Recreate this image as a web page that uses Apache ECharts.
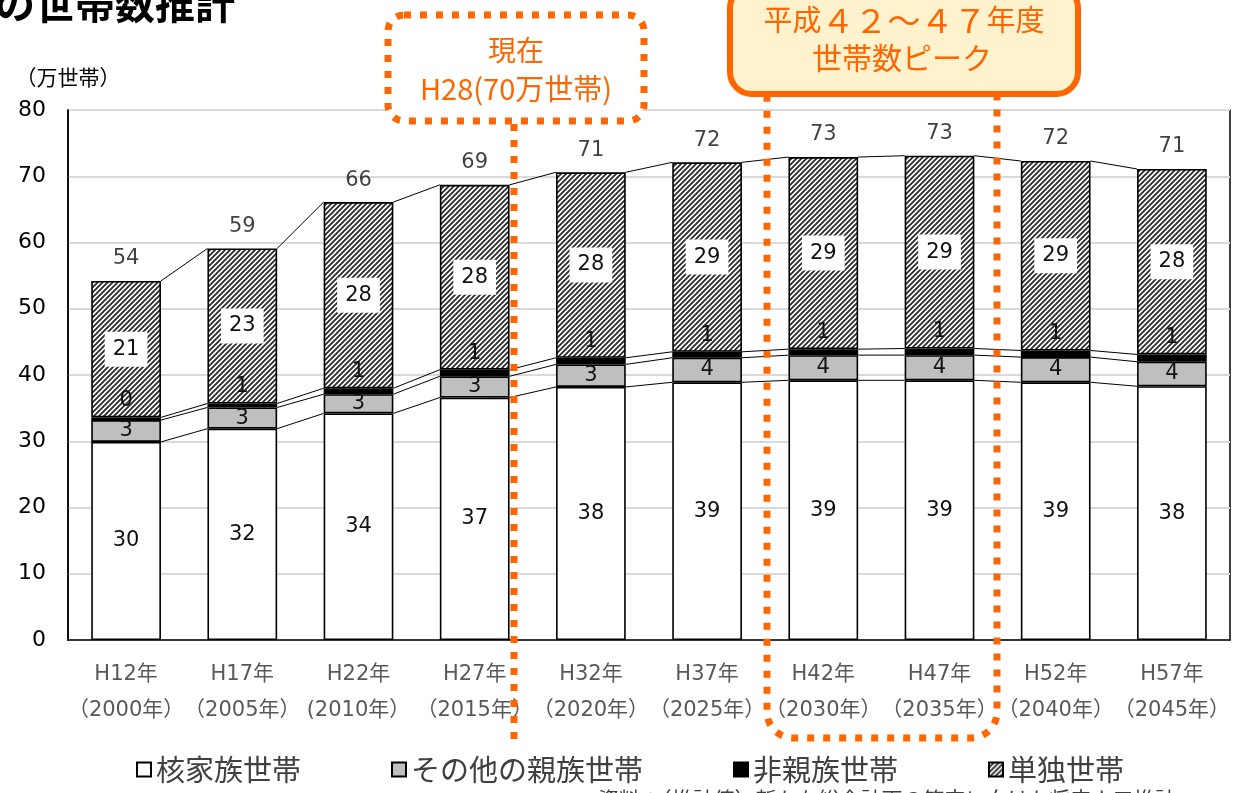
<!DOCTYPE html>
<html>
<head>
<meta charset="utf-8">
<script src="https://cdn.jsdelivr.net/npm/echarts@6/dist/echarts.min.js"></script>
<style>html,body{margin:0;padding:0;background:#fff;}#c{width:1239px;height:793px;}</style>
</head>
<body>
<div id="c"></div>
<script>
const categories = ['H12年\n（2000年）', 'H17年\n（2005年）', 'H22年\n(2010年）', 'H27年\n（2015年）', 'H32年\n（2020年）', 'H37年\n（2025年）', 'H42年\n（2030年）', 'H47年\n（2035年）', 'H52年\n（2040年）', 'H57年\n（2045年）'];
const seriesNames = ['核家族世帯', 'その他の親族世帯', '非親族世帯', '単独世帯'];
const nuclear = [29.9, 31.9, 34.2, 36.6, 38.2, 38.9, 39.2, 39.2, 38.9, 38.3];
const otherKin = [3.3, 3.2, 2.9, 3.2, 3.4, 3.7, 3.8, 3.8, 3.8, 3.7];
const nonKin = [0.4, 0.6, 0.9, 1.0, 1.0, 0.9, 0.9, 1.0, 1.0, 1.1];
const single = [20.6, 23.4, 28.1, 27.9, 28.0, 28.6, 29.0, 29.1, 28.6, 28.0];
const yTicks = {min: 0, max: 80, interval: 10};

const totals = categories.map((_, i) => nuclear[i] + otherKin[i] + nonKin[i] + single[i]);
const cum = categories.map((_, i) => {
  const a = nuclear[i], b = a + otherKin[i], c = b + nonKin[i], d = c + single[i];
  return [a, b, c, d];
});

function makeHatch() {
  const s = 5;
  const c = document.createElement('canvas');
  c.width = s; c.height = s;
  const g = c.getContext('2d');
  g.fillStyle = '#ffffff'; g.fillRect(0, 0, s, s);
  g.strokeStyle = '#2e2e2e'; g.lineWidth = 1.9;
  g.beginPath();
  g.moveTo(-1, s + 1); g.lineTo(s + 1, -1);
  g.moveTo(-1, 1); g.lineTo(1, -1);
  g.moveTo(s - 1, s + 1); g.lineTo(s + 1, s - 1);
  g.stroke();
  return c;
}
const hatch = {image: makeHatch(), repeat: 'repeat'};

const ORANGE = '#FF6600';
const numFont = 'DejaVu Sans, Noto Sans CJK JP, sans-serif';
const jpFont = 'Noto Sans CJK JP, sans-serif';
const round = p => String(Math.round(p.value));

const chart = echarts.init(document.getElementById('c'), null, {renderer: 'canvas'});
const BW = 0.6;

chart.setOption({
  animation: false,
  backgroundColor: '#ffffff',
  grid: {left: 68, right: 9, top: 110, bottom: 153, show: true, borderColor: '#000', borderWidth: 1.5, backgroundColor: 'transparent'},
  legend: {
    data: seriesNames,
    left: 131, top: 750,
    icon: 'rect', itemWidth: 14, itemHeight: 14, itemGap: 90,
    textStyle: {fontSize: 29, color: '#404040', fontFamily: jpFont}
  },
  xAxis: {
    type: 'category', data: categories,
    axisLine: {lineStyle: {color: '#000', width: 1.5}},
    axisTick: {show: false},
    axisLabel: {interval: 0, fontSize: 21, lineHeight: 36, color: '#595959', fontFamily: numFont, margin: 17}
  },
  yAxis: {
    type: 'value', min: yTicks.min, max: yTicks.max, interval: yTicks.interval,
    name: '（万世帯）', nameLocation: 'end', nameGap: 22,
    nameTextStyle: {fontSize: 21, color: '#000', fontFamily: jpFont, align: 'center'},
    axisLine: {show: true, lineStyle: {color: '#000', width: 1.5}},
    axisTick: {show: false},
    axisLabel: {fontSize: 22, color: '#000', fontFamily: numFont, margin: 22},
    splitLine: {lineStyle: {color: '#d9d9d9', width: 2}}
  },
  series: [
    {name: seriesNames[0], type: 'bar', stack: 't', data: nuclear, barWidth: (BW * 100) + '%',
      itemStyle: {color: '#ffffff', borderColor: '#000', borderWidth: 1.6},
      label: {show: true, position: 'inside', formatter: round, fontSize: 21, color: '#111', fontFamily: numFont}},
    {name: seriesNames[1], type: 'bar', stack: 't', data: otherKin,
      itemStyle: {color: '#bfbfbf', borderColor: '#000', borderWidth: 1.6},
      label: {show: true, position: 'inside', formatter: round, fontSize: 21, color: '#111', fontFamily: numFont}},
    {name: seriesNames[2], type: 'bar', stack: 't', data: nonKin,
      itemStyle: {color: '#000000', borderColor: '#000', borderWidth: 1.6},
      label: {show: true, position: 'top', distance: 6, formatter: round, fontSize: 21, color: '#111', fontFamily: numFont}},
    {name: seriesNames[3], type: 'bar', stack: 't', data: single,
      itemStyle: {color: hatch, borderColor: '#000', borderWidth: 1.6},
      label: {show: true, position: 'inside', formatter: round, fontSize: 21, color: '#111', fontFamily: numFont,
        backgroundColor: '#ffffff', padding: [8, 8, 6, 8]}},
    {name: 'total', type: 'scatter', data: totals, symbolSize: 1, itemStyle: {color: 'rgba(0,0,0,0)'},
      label: {show: true, position: 'top', distance: 11, formatter: round, fontSize: 21, color: '#111', fontFamily: numFont}},
    {name: 'serieslines', type: 'custom', data: categories.map((_, i) => [i, totals[i]]), z: 1,
      renderItem: function (params, api) {
        const i = params.dataIndex;
        if (i >= categories.length - 1) return null;
        const half = api.size([1, 0])[0] * BW / 2;
        const children = cum[i].map((v, k) => {
          const p1 = api.coord([i, v]);
          const p2 = api.coord([i + 1, cum[i + 1][k]]);
          return {type: 'line', shape: {x1: p1[0] + half, y1: p1[1], x2: p2[0] - half, y2: p2[1]},
            style: {stroke: '#000', lineWidth: 1}};
        });
        return {type: 'group', children: children};
      }}
  ],
  graphic: [
    {type: 'text', x: -5, y: 24, z: 100, style: {text: 'の世帯数推計', fontSize: 40, fontWeight: 'bold', fill: '#000', fontFamily: jpFont, verticalAlign: 'bottom'}},
    {type: 'text', x: 598, y: 789, z: 100, style: {text: '資料：（推計値）新たな総合計画の策定に向けた将来人口推計', fontSize: 21, fill: '#404040', fontFamily: jpFont, verticalAlign: 'top'}},
    {type: 'rect', z: 100, shape: {x: 388, y: 15, width: 256, height: 106, r: 16},
      style: {fill: '#ffffff', stroke: ORANGE, lineWidth: 7, lineDash: [7, 9]}},
    {type: 'line', z: 100, shape: {x1: 514, y1: 124, x2: 514, y2: 740},
      style: {stroke: ORANGE, lineWidth: 7, lineDash: [7, 9]}},
    {type: 'text', z: 101, x: 516, y: 50, style: {text: '現在', fontSize: 28, fill: ORANGE, fontFamily: jpFont, align: 'center', verticalAlign: 'middle'}},
    {type: 'text', z: 101, x: 516, y: 89, style: {text: 'H28(70万世帯)', fontSize: 29, fill: ORANGE, fontFamily: jpFont, align: 'center', verticalAlign: 'middle'}},
    {type: 'rect', z: 100, shape: {x: 767, y: 30, width: 230, height: 708, r: 26},
      style: {fill: 'none', stroke: ORANGE, lineWidth: 7, lineDash: [7, 9]}},
    {type: 'rect', z: 102, shape: {x: 730, y: -14, width: 348, height: 108, r: 22},
      style: {fill: '#FFF2CC', stroke: ORANGE, lineWidth: 6}},
    {type: 'text', z: 103, x: 904, y: 20, style: {
      text: '{a|平成}{b|４２～４７}{a|年度}', align: 'center', verticalAlign: 'middle',
      rich: {a: {fontSize: 29, fill: ORANGE, fontFamily: jpFont}, b: {fontSize: 33, fill: ORANGE, fontFamily: jpFont}}}},
    {type: 'text', z: 103, x: 902, y: 58, style: {text: '世帯数ピーク', fontSize: 30, fill: ORANGE, fontFamily: jpFont, align: 'center', verticalAlign: 'middle'}}
  ]
});
</script>
</body>
</html>
